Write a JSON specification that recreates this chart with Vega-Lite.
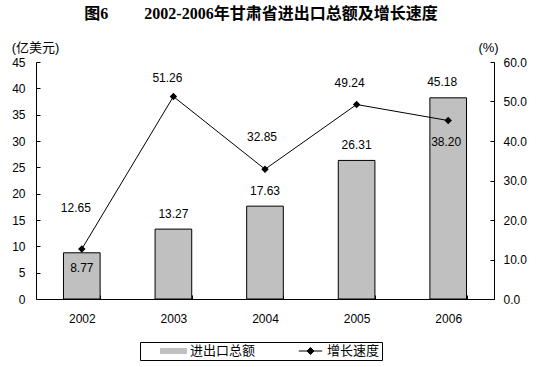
{
  "$schema": "https://vega.github.io/schema/vega-lite/v6.json",
  "width": 458,
  "height": 237,
  "autosize": "none",
  "padding": {"left": 36, "top": 62, "right": 47, "bottom": 68},
  "background": "white",
  "config": {"view": {"stroke": null}},
  "title": {
    "text": "图6　　 2002-2006年甘肃省进出口总额及增长速度",
    "font": "Liberation Serif, Noto Sans CJK SC",
    "fontSize": 16,
    "fontWeight": "bold",
    "color": "black",
    "anchor": "middle",
    "frame": "group",
    "baseline": "middle",
    "offset": 11,
    "dx": -4
  },
  "data": {
    "values": [
      {"year": "2002", "amount": 8.77, "rate": 12.65},
      {"year": "2003", "amount": 13.27, "rate": 51.26},
      {"year": "2004", "amount": 17.63, "rate": 32.85},
      {"year": "2005", "amount": 26.31, "rate": 49.24},
      {"year": "2006", "amount": 38.20, "rate": 45.18}
    ]
  },
  "encoding": {
    "x": {
      "field": "year",
      "type": "nominal",
      "scale": {"paddingInner": 0.6, "paddingOuter": 0.3},
      "axis": {
        "title": null,
        "labelAngle": 0,
        "tickBand": "extent",
        "tickSize": -4,
        "labelPadding": 18,
        "domainColor": "black",
        "tickColor": "black",
        "labelFont": "Liberation Sans",
        "labelFontSize": 12,
        "labelColor": "black"
      }
    }
  },
  "layer": [
    {
      "encoding": {
        "y": {
          "field": "amount",
          "type": "quantitative",
          "scale": {"domain": [0, 45], "nice": false},
          "axis": {
            "orient": "left",
            "title": "(亿美元)",
            "titleAngle": 0,
            "titleX": -1,
            "titleY": -15,
            "titleAlign": "center",
            "titleBaseline": "middle",
            "titleFont": "Liberation Sans, Noto Sans CJK SC",
            "titleFontSize": 13,
            "titleFontWeight": "normal",
            "titleColor": "black",
            "values": [0, 5, 10, 15, 20, 25, 30, 35, 40, 45],
            "grid": false,
            "domainColor": "black",
            "tickColor": "black",
            "tickSize": -4,
            "labelPadding": 15,
            "labelFont": "Liberation Sans",
            "labelFontSize": 12,
            "labelColor": "black"
          }
        }
      },
      "layer": [
        {
          "mark": {"type": "bar", "stroke": "black", "strokeWidth": 1},
          "encoding": {
            "color": {
              "datum": "进出口总额",
              "scale": {"domain": ["进出口总额", "增长速度"], "range": ["#C0C0C0", "#000000"]},
              "legend": {
                "orient": "none",
                "legendX": 104,
                "legendY": 280,
                "direction": "horizontal",
                "title": null,
                "strokeColor": "black",
                "padding": 2,
                "labelFont": "Noto Sans CJK SC",
                "labelFontSize": 13,
                "labelColor": "black",
                "symbolSize": 676,
                "symbolOffset": 18,
                "labelOffset": 3,
                "columnPadding": 23,
                "clipHeight": 14,
                "symbolType": {"expr": "datum.value === '进出口总额' ? 'M-1,-0.2L1,-0.2L1,0.2L-1,0.2Z' : 'M-0.9,0L0.9,0M0,-0.27L0.27,0L0,0.27L-0.27,0Z'"},
                "symbolStrokeColor": "black",
                "symbolStrokeWidth": 1,
                "symbolOpacity": 1
              }
            }
          }
        },
        {
          "transform": [{"filter": {"field": "year", "oneOf": ["2003", "2004", "2005"]}}],
          "mark": {"type": "text", "baseline": "middle", "dy": -15, "font": "Liberation Sans", "fontSize": 12, "color": "black"},
          "encoding": {"text": {"field": "amount", "type": "quantitative", "format": ".2f"}}
        },
        {
          "transform": [{"filter": {"field": "year", "equal": "2002"}}],
          "mark": {"type": "text", "baseline": "middle", "dy": 15, "font": "Liberation Sans", "fontSize": 12, "color": "black"},
          "encoding": {"text": {"field": "amount", "type": "quantitative", "format": ".2f"}}
        },
        {
          "transform": [{"filter": {"field": "year", "equal": "2006"}}],
          "mark": {"type": "text", "baseline": "middle", "dy": 44, "dx": -2, "font": "Liberation Sans", "fontSize": 12, "color": "black"},
          "encoding": {"text": {"field": "amount", "type": "quantitative", "format": ".2f"}}
        }
      ]
    },
    {
      "encoding": {
        "y": {
          "field": "rate",
          "type": "quantitative",
          "scale": {"domain": [0, 60], "nice": false},
          "axis": {
            "orient": "right",
            "title": "(%)",
            "titleAngle": 0,
            "titleX": -6,
            "titleY": -15,
            "titleAlign": "center",
            "titleBaseline": "middle",
            "titleFont": "Liberation Sans, Noto Sans CJK SC",
            "titleFontSize": 13,
            "titleFontWeight": "normal",
            "titleColor": "black",
            "values": [0, 10, 20, 30, 40, 50, 60],
            "format": ".1f",
            "grid": false,
            "domainColor": "black",
            "tickColor": "black",
            "tickSize": -4,
            "labelPadding": 13,
            "labelFont": "Liberation Sans",
            "labelFontSize": 12,
            "labelColor": "black"
          }
        }
      },
      "layer": [
        {
          "mark": {"type": "line", "strokeWidth": 1, "point": {"shape": "diamond", "filled": true, "size": 55, "opacity": 1}},
          "encoding": {
            "color": {"datum": "增长速度", "legend": null}
          }
        },
        {
          "transform": [{"filter": {"field": "year", "oneOf": ["2003"]}}],
          "mark": {"type": "text", "baseline": "middle", "dy": -19, "dx": -6, "font": "Liberation Sans", "fontSize": 12, "color": "black"},
          "encoding": {"text": {"field": "rate", "type": "quantitative", "format": ".2f"}}
        },
        {
          "transform": [{"filter": {"field": "year", "oneOf": ["2005"]}}],
          "mark": {"type": "text", "baseline": "middle", "dy": -22, "dx": -7, "font": "Liberation Sans", "fontSize": 12, "color": "black"},
          "encoding": {"text": {"field": "rate", "type": "quantitative", "format": ".2f"}}
        },
        {
          "transform": [{"filter": {"field": "year", "oneOf": ["2004"]}}],
          "mark": {"type": "text", "baseline": "middle", "dy": -32, "dx": -3, "font": "Liberation Sans", "fontSize": 12, "color": "black"},
          "encoding": {"text": {"field": "rate", "type": "quantitative", "format": ".2f"}}
        },
        {
          "transform": [{"filter": {"field": "year", "oneOf": ["2006"]}}],
          "mark": {"type": "text", "baseline": "middle", "dy": -39, "dx": -6, "font": "Liberation Sans", "fontSize": 12, "color": "black"},
          "encoding": {"text": {"field": "rate", "type": "quantitative", "format": ".2f"}}
        },
        {
          "transform": [{"filter": {"field": "year", "oneOf": ["2002"]}}],
          "mark": {"type": "text", "baseline": "middle", "dy": -41, "dx": -6, "font": "Liberation Sans", "fontSize": 12, "color": "black"},
          "encoding": {"text": {"field": "rate", "type": "quantitative", "format": ".2f"}}
        }
      ]
    }
  ],
  "resolve": {"scale": {"y": "independent"}}
}
